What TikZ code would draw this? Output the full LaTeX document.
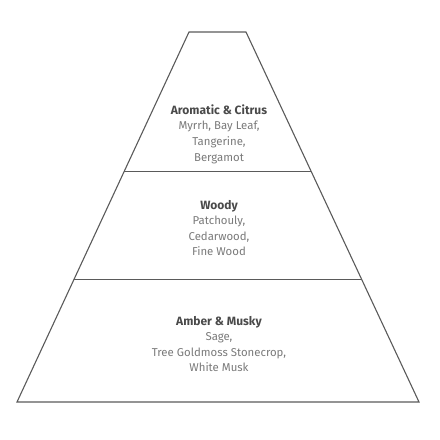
\documentclass[tikz,border=0pt]{standalone}
\usepackage{fontspec}
\setmainfont{Fira Sans}
\usetikzlibrary{calc}
\definecolor{edgegray}{HTML}{5A5A5A}
\definecolor{headgray}{HTML}{4A4A4A}
\definecolor{notegray}{HTML}{7A7A7A}
\tikzset{
  tier/.style={draw=edgegray, line width=1.1pt, line join=miter},
  notes/.style={align=center, text=notegray, inner sep=0pt,
    font=\fontsize{11.4}{15.6}\selectfont},
}
\newcommand{\head}[1]{{\fontsize{12}{15.6}\selectfont\bfseries\color{headgray}#1}}
\begin{document}
\begin{tikzpicture}[x=1pt, y=-1pt]

  % Fix the page to the reference size
  \useasboundingbox (0,0) rectangle (440,440);

  % Corners of the pyramid
  \coordinate (TL) at (189,32);
  \coordinate (TR) at (246,32);
  \coordinate (BL) at (17,402);
  \coordinate (BR) at (419,402);

  % Ends of the two dividers
  \coordinate (UL) at ($(TL)!0.378!(BL)$);
  \coordinate (UR) at ($(TR)!0.378!(BR)$);
  \coordinate (LL) at ($(TL)!0.670!(BL)$);
  \coordinate (LR) at ($(TR)!0.670!(BR)$);

  % Draw the outline
  \draw[tier] (TL) -- (TR) -- (BR) -- (BL) -- cycle;

  % Draw the dividers
  \draw[tier] (UL) -- (UR);
  \draw[tier] (LL) -- (LR);

  % Top tier
  \node[notes] (top) at (219,134)
    {\head{Aromatic \& Citrus}\\Myrrh, Bay Leaf,\\Tangerine,\\Bergamot};

  % Middle tier
  \node[notes] (mid) at (219,228)
    {\head{Woody}\\Patchouly,\\Cedarwood,\\Fine Wood};

  % Bottom tier
  \node[notes] (base) at (219,344)
    {\head{Amber \& Musky}\\Sage,\\Tree Goldmoss Stonecrop,\\White Musk};

\end{tikzpicture}
\end{document}
